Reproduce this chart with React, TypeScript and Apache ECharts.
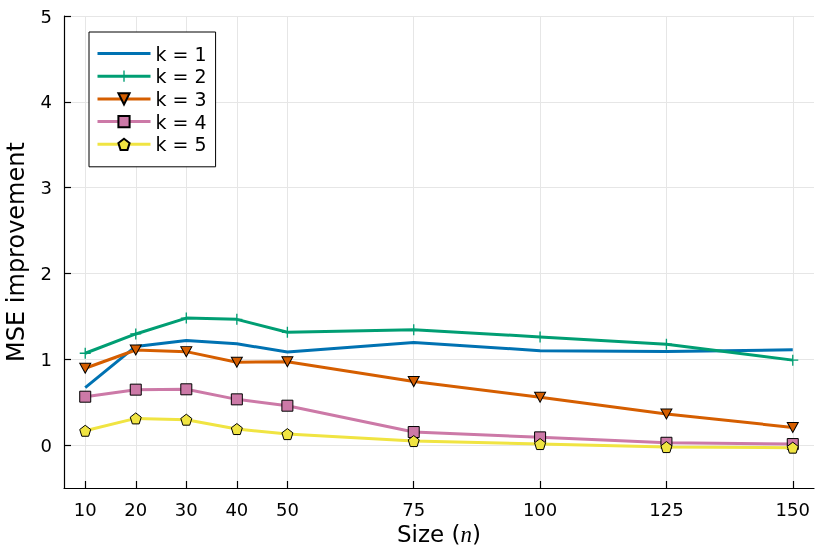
import { useEffect, useRef } from "react";
import * as echarts from "echarts";

const sizes = [10, 20, 30, 40, 50, 75, 100, 125, 150];
const k1 = [0.67, 1.15, 1.22, 1.18, 1.085, 1.195, 1.1, 1.09, 1.11];
const k2 = [1.07, 1.295, 1.48, 1.465, 1.315, 1.345, 1.26, 1.175, 0.99];
const k3 = [0.895, 1.108, 1.089, 0.965, 0.972, 0.74, 0.558, 0.362, 0.206];
const k4 = [0.564, 0.646, 0.65, 0.533, 0.459, 0.152, 0.09, 0.027, 0.012];
const k5 = [0.167, 0.311, 0.296, 0.187, 0.128, 0.047, 0.012, -0.023, -0.03];
const seriesNames = ["k = 1", "k = 2", "k = 3", "k = 4", "k = 5"];
const xTicks = [10, 20, 30, 40, 50, 75, 100, 125, 150];
const yTicks = [0, 1, 2, 3, 4, 5];

const FONT = "DejaVu Sans";
const colors = ["#0072B2", "#009E73", "#D55E00", "#CC79A7", "#F0E442"];
const symbols = [
  "none",
  "path://M4.4,0H5.6V10H4.4Z M0,4.4H10V5.6H0Z",
  "path://M0,0L10,0L5,8.7Z",
  "rect",
  "path://M5,0L10,3.7L8.1,9.6L1.9,9.6L0,3.7Z",
];
const symbolSizes: any[] = [0, 11, [11, 10], 11, 11];

export default function App() {
  const ref = useRef<HTMLDivElement>(null);
  useEffect(() => {
    if (!ref.current) return;
    const chart = echarts.init(ref.current, undefined, { renderer: "svg" });
    const all = [k1, k2, k3, k4, k5];
    const series = all.map((vals, i) => ({
      name: seriesNames[i],
      type: "line",
      data: sizes.map((x, j) => [x, vals[j]]),
      symbol: symbols[i],
      symbolSize: symbolSizes[i],
      showSymbol: i !== 0,
      color: colors[i],
      lineStyle: { width: 3, color: colors[i] },
      itemStyle: {
        color: colors[i],
        borderColor: i === 1 ? colors[i] : "#000",
        borderWidth: i === 1 || i === 0 ? 0 : 1,
      },
      z: 2 + i,
    }));
    chart.setOption({
      animation: false,
      textStyle: { fontFamily: FONT },
      grid: { left: 64, top: 16, right: 16, bottom: 66, containLabel: false, outerBoundsMode: "none" },
      legend: {
        orient: "vertical",
        left: 89,
        top: 32,
        padding: [12, 9, 13, 7],
        itemWidth: 53,
        itemHeight: 14,
        itemGap: 3.7,
        borderColor: "#000",
        borderWidth: 1,
        borderRadius: 0,
        backgroundColor: "#fff",
        lineStyle: { width: 3 },
        textStyle: { fontSize: 19, color: "#000", fontFamily: FONT },
        data: seriesNames.map((n, i) =>
          i === 0 ? { name: n, itemStyle: { opacity: 0 } } : { name: n }
        ),
      },
      xAxis: {
        type: "value",
        min: 5.8,
        max: 154.2,
        name: "Size ({i|n})",
        nameLocation: "middle",
        nameGap: 29,
        nameTextStyle: {
          fontSize: 23,
          color: "#000",
          fontFamily: FONT,
          rich: { i: { fontSize: 23, fontStyle: "italic", fontFamily: "Liberation Serif", color: "#000" } },
        },
        axisLine: { show: true, onZero: false, lineStyle: { color: "#000", width: 1.2 } },
        axisTick: { show: true, inside: true, length: 7, customValues: xTicks, lineStyle: { color: "#000", width: 1.2 } },
        axisLabel: { customValues: xTicks, fontSize: 18, color: "#000", margin: 12, fontFamily: FONT },
        splitLine: { show: true, lineStyle: { color: "#e6e6e6", width: 1 } },
      },
      yAxis: {
        type: "value",
        min: -0.5,
        max: 5,
        name: "MSE improvement",
        nameLocation: "middle",
        nameGap: 36,
        nameTextStyle: { fontSize: 24, color: "#000", fontFamily: FONT },
        axisLine: { show: true, onZero: false, lineStyle: { color: "#000", width: 1.2 } },
        axisTick: { show: true, inside: true, length: 7, customValues: yTicks, lineStyle: { color: "#000", width: 1.2 } },
        axisLabel: { customValues: yTicks, fontSize: 18, color: "#000", margin: 12, fontFamily: FONT },
        splitLine: { show: true, lineStyle: { color: "#e6e6e6", width: 1 } },
      },
      series,
    });
    return () => chart.dispose();
  }, []);
  return <div ref={ref} style={{ position: "fixed", left: 0, top: 0, width: 830, height: 554 }} />;
}
